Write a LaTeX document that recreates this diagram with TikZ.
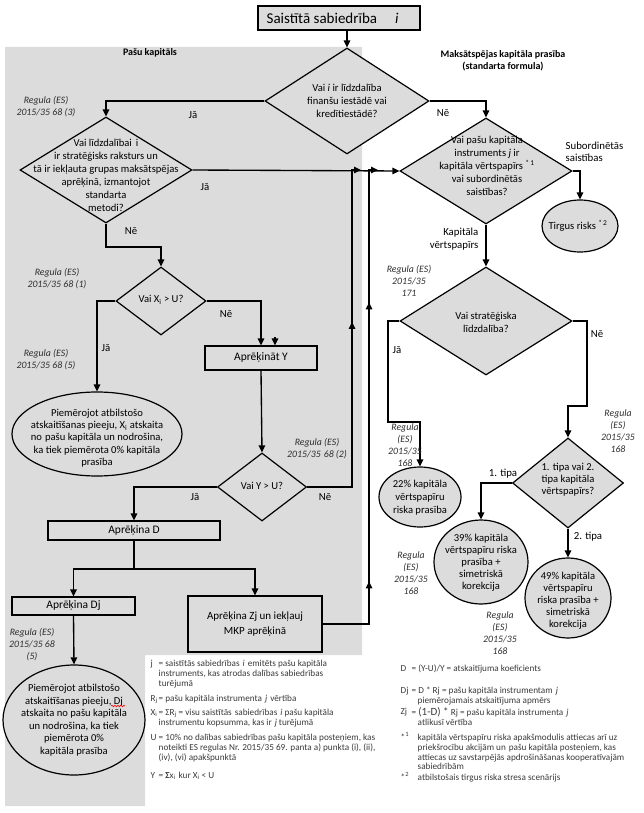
\documentclass[tikz,border=0pt]{standalone}
\usepackage{fontspec}
\setmainfont{Carlito}
\usetikzlibrary{shapes.geometric,arrows.meta,decorations.markings,decorations.pathmorphing}
\definecolor{bg}{HTML}{DCDCDC}
\definecolor{regc}{HTML}{2E2E2E}
\definecolor{legc}{HTML}{3A3A3A}
\begin{document}
\begin{tikzpicture}[x=1pt,y=-1pt,line width=1.35pt,
  arr/.style={-{Triangle[length=7pt,width=6.5pt]}},
  dia/.style={shape=diamond,draw=black,fill=bg,line width=1.2pt,inner sep=0pt},
  box/.style={draw=black,fill=bg,line width=1.2pt,inner sep=0pt},
  ell/.style={shape=ellipse,draw=black,fill=bg,line width=1.2pt,inner sep=0pt},
  txt/.style={font=\fontsize{10.6}{13}\selectfont,align=center,inner sep=0pt},
  btxt/.style={font=\fontsize{11.5}{14}\selectfont,align=center,inner sep=0pt},
  regl/.style={font=\fontsize{9.8}{12}\selectfont\itshape,align=center,inner sep=0pt,text=regc},
  lab/.style={font=\fontsize{10.8}{12.5}\selectfont,align=center,inner sep=0pt},
  hdr/.style={font=\fontsize{10}{12}\selectfont\bfseries,align=center,inner sep=0pt},
  leg/.style={font=\fontsize{9.2}{10}\selectfont,inner sep=0pt,text=legc,anchor=base west},
]
\useasboundingbox (0,0) rectangle (643,813);
\fill[bg] (5,47) -- (362,47) -- (362,655) -- (145,655) -- (145,806) -- (5,806) -- cycle;

% headers
\node[hdr] (hpk) at (150,53) {Pašu kapitāls};
\node[hdr] (hmk) at (503,61) {Maksātspējas kapitāla prasība\\(standarta formula)};

% top box
\node[box,line width=1.7pt,minimum width=162,minimum height=24] (top) at (339,18) {};
\node[anchor=base west,inner sep=0pt,font=\fontsize{15}{17}\selectfont] (toptxt) at (266,23.5) {Saistītā sabiedrība\hskip 18pt\textit{i}};

% diamonds
\node[dia,minimum width=164,minimum height=106] (d1) at (347,101) {};
\node[txt] (d1t) at (347,101) {Vai \textit{i} ir līdzdalība\\finanšu iestādē vai\\kredītiestādē?};
\node[dia,minimum width=172,minimum height=106] (d2) at (106,170) {};
\node[txt] (d2t) at (106,175) {Vai līdzdalībai\hskip 4pt i\\ir stratēģisks raksturs un\\tā ir iekļauta grupas maksātspējas\\aprēķinā, izmantojot\\standarta\\metodi?};
\node[dia,minimum width=172,minimum height=106] (d3) at (486,171) {};
\node[txt] (d3t) at (487,166) {Vai pašu kapitāla\\instruments \textit{j} ir\\kapitāla vērtspapīrs \textsuperscript{*\,1}\\vai subordinētās\\saistības?};
\node[dia,minimum width=90,minimum height=68] (d4) at (161,301) {};
\node[txt] (d4t) at (161,300) {Vai X\textsubscript{i} > U?};
\node[dia,minimum width=89,minimum height=68] (d5) at (262,487) {};
\node[txt] (d5t) at (262,486) {Vai Y > U?};
\node[dia,minimum width=172,minimum height=108] (d6) at (486,321) {};
\node[txt] (d6t) at (486,322) {Vai stratēģiska\\līdzdalība?};
\node[dia,minimum width=111,minimum height=90] (d7) at (568,483) {};
\node[txt,font=\fontsize{10.6}{12}\selectfont] (d7t) at (568,480) {1. tipa vai 2.\\tipa kapitāla\\vērtspapīrs?};

% boxes
\node[box,minimum width=112,minimum height=24] (bY) at (261,358) {};
\node[btxt] (bYt) at (261,358) {Aprēķināt Y};
\node[box,minimum width=172,minimum height=19] (bD) at (134,530.5) {};
\node[btxt] (bDt) at (134,530.5) {Aprēķina D};
\node[box,minimum width=123,minimum height=18] (bDj) at (73.5,606) {};
\node[btxt] (bDjt) at (73.5,606) {Aprēķina Dj};
\node[box,minimum width=134,minimum height=56] (bZj) at (255,624) {};
\node[btxt,font=\fontsize{11}{15}\selectfont] (bZjt) at (255,624) {Aprēķina Zj un iekļauj\\MKP aprēķinā};

% ellipses
\node[ell,minimum width=170,minimum height=84] (e1) at (97,434) {};
\node[txt,font=\fontsize{10.6}{12.3}\selectfont] (e1t) at (97,438) {Piemērojot atbilstošo\\atskaitīšanas pieeju, X\textsubscript{i} atskaita\\no\hskip 3pt pašu kapitāla un nodrošina,\\ka tiek piemērota 0\% kapitāla\\prasība};
\node[ell,minimum width=142,minimum height=110] (e2) at (74,720) {};
\node[txt,font=\fontsize{10.6}{12.5}\selectfont] (e2t) at (74,720) {Piemērojot atbilstošo\\atskaitīšanas pieeju, Dj\\atskaita no pašu kapitāla\\un nodrošina, ka tiek\\piemērota 0\%\\kapitāla prasība};
\coordinate (sq1) at (111,706);
\coordinate (sq2) at (125,706);
\draw[red,line width=0.6pt,decorate,decoration={snake,amplitude=0.8pt,segment length=3pt}] (sq1) -- (sq2);
\node[ell,minimum width=76,minimum height=52] (et) at (580,226) {};
\node[txt] (ett) at (578,226) {Tirgus risks \textsuperscript{*\,2}};
\node[ell,minimum width=82,minimum height=60] (e22) at (420,497) {};
\node[txt,font=\fontsize{10.6}{13}\selectfont] (e22t) at (420,498) {22\% kapitāla\\vērtspapīru\\riska prasība};
\node[ell,minimum width=94,minimum height=84] (e39) at (481,562) {};
\node[txt,font=\fontsize{10.6}{12}\selectfont] (e39t) at (481,563) {39\% kapitāla\\vērtspapīru riska\\prasība +\\simetriskā\\korekcija};
\node[ell,minimum width=86,minimum height=80] (e49) at (568,598) {};
\node[txt,font=\fontsize{10.6}{12}\selectfont] (e49t) at (568,601) {49\% kapitāla\\vērtspapīru\\riska prasība +\\simetriskā\\korekcija};

% coordinates for free ends and bends
\coordinate (n2) at (161,247);
\coordinate (m1) at (361,170);
\coordinate (m2) at (378,170);
\coordinate (v1) at (352,170);
\coordinate (v2) at (369,170);
\coordinate (sp) at (134,569);
\coordinate (j1) at (388,422);
\coordinate (j2) at (587,406);
\coordinate (st) at (275,337);

% connectors
\draw[arr] (top.south -| d1.north) -- (d1.north);
\draw[arr] (d1.west) -| (d2.north);
\draw[arr] (d1.east) -| (d3.north);
\draw[arr] (d2.east) -- (d3.west);
\draw[arr] (d2.south) |- (n2) -- (d4.north);
\draw[arr] (d4.west) -| (e1.north);
\draw[arr] (d4.east) -| (bY.north);
\draw[arr] (st) -- (st |- bY.north);
\draw[arr] (bY.south) -- (d5.north);
\draw[arr,postaction={decorate},decoration={markings,mark=at position 210pt with {\arrow{Triangle[length=7pt,width=6.5pt]}}}]
  (d5.east) -| (v1) -- (m1);
\draw[arr] (d5.west) -| (bD.north);
\draw[arr] (bD.south) -- (sp) -| (bDj.north);
\draw[arr] (sp) -| (bZj.north);
\draw[arr] (bDj.south) -- (e2.north);
\draw[arr,postaction={decorate},decoration={markings,
    mark=at position 89pt with {\arrow{Triangle[length=7pt,width=6.5pt]}},
    mark=at position 368pt with {\arrow{Triangle[length=7pt,width=6.5pt]}}}]
  (bZj.east) -| (v2) -- (m2);
\draw[arr] (d3.east) -| (et.north);
\draw[arr] (d3.south) -- (d6.north);
\draw[arr] (d6.west) -| (j1) -| (e22.north);
\draw[arr] (d6.east) -| (j2) -| (d7.north);
\draw[arr] (d7.west) -| (e39.north);
\draw[arr] (d7.south) -- (e49.north);

% connector labels
\node[lab] (l1) at (193,115) {Jā};
\node[lab] (l2) at (443,113) {Nē};
\node[lab] (l3) at (205,187) {Jā};
\node[lab] (l4) at (131,231) {Nē};
\node[lab] (l5) at (106,348) {Jā};
\node[lab] (l6) at (226,314) {Nē};
\node[lab] (l7) at (325,497) {Nē};
\node[lab] (l8) at (195,497) {Jā};
\node[lab] (l9) at (397,350) {Jā};
\node[lab] (l10) at (597,334) {Nē};
\node[lab] (l11) at (503,474) {1. tipa};
\node[lab] (l12) at (588,537) {2. tipa};
\node[lab,align=left,anchor=west] (l13) at (565,152) {Subordinētās\\saistības};
\node[lab,align=right,anchor=east] (l14) at (479,239) {Kapitāla\\vērtspapīrs};

% regulation labels
\node[regl] (r3) at (46,107) {Regula (ES)\\2015/35 68 (3)};
\node[regl] (r1) at (57,279) {Regula (ES)\\2015/35 68 (1)};
\node[regl] (r5a) at (46,360) {Regula (ES)\\2015/35 68 (5)};
\node[regl] (r2) at (317,449) {Regula (ES)\\2015/35\hskip 3pt 68 (2)};
\node[regl] (r5b) at (32,645) {Regula (ES)\\2015/35 68\\(5)};
\node[regl] (r171) at (409,281) {Regula (ES)\\2015/35\\171};
\node[regl] (r168a) at (405,445) {Regula\\(ES)\\2015/35\\168};
\node[regl] (r168b) at (618,431) {Regula\\(ES)\\2015/35\\168};
\node[regl] (r168c) at (411,573) {Regula\\(ES)\\2015/35\\168};
\node[regl] (r168d) at (500,633) {Regula\\(ES)\\2015/35\\168};

% legend left
\node[leg] (lgj) at (150,666) {j};
\node[leg] (lgj1) at (158,666) {= saistītās sabiedrības\hskip 3pt\textit{i}\hskip 3pt emitēts pašu kapitāla};
\node[leg] (lgj2) at (158,676) {instruments, kas atrodas dalības sabiedrības};
\node[leg] (lgj3) at (158,686) {turējumā};
\node[leg] (lgr) at (150,701) {R\textsubscript{j}};
\node[leg] (lgr1) at (158,701) {= pašu kapitāla instrumenta\hskip 3pt\textit{j}\hskip 3pt vērtība};
\node[leg] (lgx) at (150,715) {X\textsubscript{i}};
\node[leg] (lgx1) at (158,715) {= ΣR\textsubscript{j} = visu saistītās\hskip 3pt sabiedrības\hskip 3pt\textit{i} pašu kapitāla};
\node[leg] (lgx2) at (158,725) {instrumentu kopsumma, kas ir\hskip 3pt\textit{j}\hskip 2pt turējumā};
\node[leg] (lgu) at (150,740) {U};
\node[leg] (lgu1) at (158,740) {= 10\% no dalības sabiedrības pašu kapitāla posteņiem, kas};
\node[leg] (lgu2) at (158,750) {noteikti ES regulas Nr. 2015/35 69. panta a) punkta (i), (ii),};
\node[leg] (lgu3) at (158,760) {(iv), (vi) apakšpunktā};
\node[leg] (lgy) at (150,778) {Y};
\node[leg] (lgy1) at (158,778) {= \textbf{Σ}x\textsubscript{i}\hskip 3pt kur X\textsubscript{i} < U};

% legend right
\node[leg] (lgd) at (400,671) {D};
\node[leg] (lgd1) at (411,671) {= (Y-U)/Y = atskaitījuma koeficients};
\node[leg] (lgdj) at (400,693) {Dj};
\node[leg] (lgdj1) at (411,693) {= D * Rj = pašu kapitāla instrumentam\hskip 3pt\textit{j}};
\node[leg] (lgdj2) at (417,703) {piemērojamais atskaitījuma apmērs};
\node[leg] (lgz) at (400,714) {Zj};
\node[leg] (lgz1) at (411,715) {= {\fontsize{11}{11}\selectfont(1-D) *} Rj = pašu kapitāla instrumenta\hskip 3pt\textit{j}};
\node[leg] (lgz2) at (417,725) {atlikusī vērtība};
\node[leg] (lgs1) at (400,740) {*\textsuperscript{1}};
\node[leg] (lgs11) at (417,740) {kapitāla vērtspapīru riska apakšmodulis attiecas arī uz};
\node[leg] (lgs12) at (417,750) {priekšrocību akcijām un\hskip 3pt pašu kapitāla posteņiem, kas};
\node[leg] (lgs13) at (417,760) {attiecas uz savstarpējās apdrošināšanas kooperatīvajām};
\node[leg] (lgs14) at (417,769) {sabiedrībām};
\node[leg] (lgs2) at (400,780) {*\textsuperscript{2}};
\node[leg] (lgs21) at (417,780) {atbilstošais tirgus riska stresa scenārijs};
\end{tikzpicture}
\end{document}
